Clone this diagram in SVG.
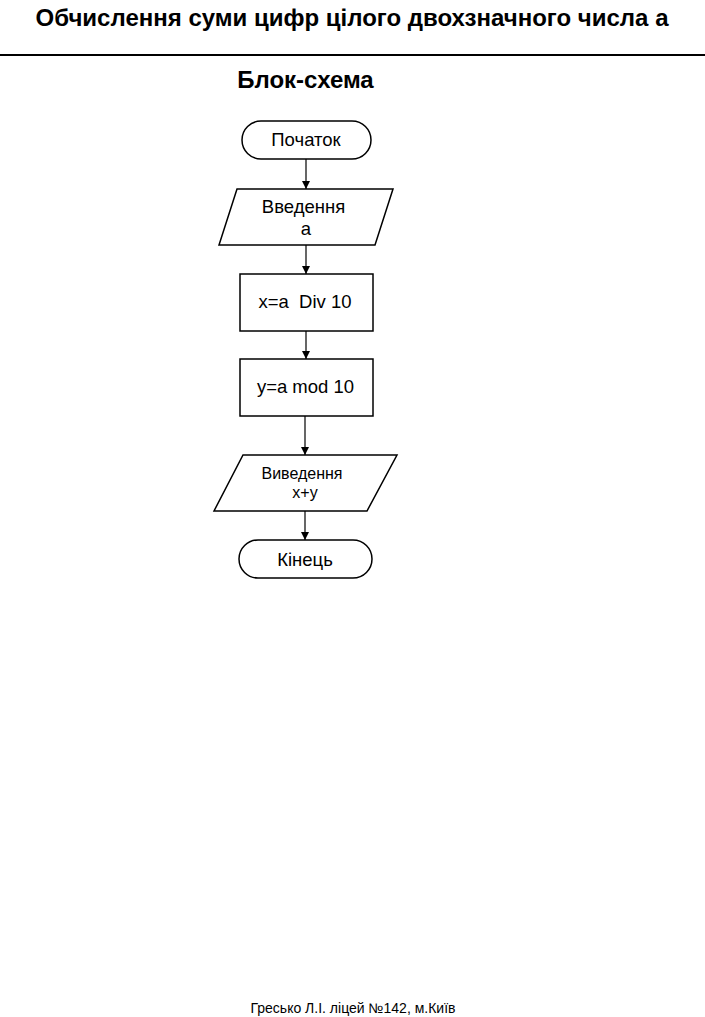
<svg xmlns="http://www.w3.org/2000/svg" width="705" height="1017" viewBox="0 0 705 1017">
<defs>
<marker id="ah" markerWidth="8" markerHeight="10" refX="8" refY="5" orient="auto" markerUnits="userSpaceOnUse">
<path d="M0,1 L8,5 L0,9 Z" fill="#000"/>
</marker>
<style>
.t{font-family:"Liberation Sans",Arial,sans-serif;fill:#000;text-anchor:middle}
.b{font-weight:bold;font-size:24px}
.n{font-size:18.5px}
.s{fill:#fff;stroke:#000;stroke-width:1.5}
.c{stroke:#000;stroke-width:1.2;fill:none;marker-end:url(#ah)}
</style>
</defs>
<rect width="705" height="1017" fill="#fff"/>
<text class="t b" x="352" y="26">Обчислення суми цифр цілого двохзначного числа а</text>
<line x1="0" y1="55" x2="705" y2="55" stroke="#000" stroke-width="2"/>
<text class="t b" x="305.5" y="88">Блок-схема</text>
<g id="connectors">
<line class="c" x1="306" y1="159" x2="306" y2="189"/>
<line class="c" x1="306" y1="245" x2="306" y2="274"/>
<line class="c" x1="306" y1="331" x2="306" y2="359"/>
<line class="c" x1="305" y1="416" x2="305" y2="455"/>
<line class="c" x1="305" y1="511" x2="305" y2="540"/>
</g>
<g id="start">
<rect class="s" x="242" y="121" width="129" height="38" rx="19" ry="19"/>
<text class="t n" x="306" y="146">Початок</text>
</g>
<g id="input">
<polygon class="s" points="237,189 393,189 375,245 219,245"/>
<text class="t n" x="303.5" y="213">Введення</text>
<text class="t n" x="306" y="235">а</text>
</g>
<g id="div">
<rect class="s" x="240" y="274" width="133" height="57"/>
<text class="t n" x="305" y="308" xml:space="preserve">x=a  Div 10</text>
</g>
<g id="mod">
<rect class="s" x="240" y="359" width="133" height="57"/>
<text class="t n" x="305.5" y="393">y=a mod 10</text>
</g>
<g id="output">
<polygon class="s" points="243,455 397,455 367,511 214,511"/>
<text class="t" x="302" y="479" font-size="16">Виведення</text>
<text class="t" x="305" y="498" font-size="16">x+y</text>
</g>
<g id="end">
<rect class="s" x="239" y="540" width="133" height="38" rx="19" ry="19"/>
<text class="t n" x="305" y="566">Кінець</text>
</g>
<text class="t" x="353" y="1013" font-size="14">Гресько Л.І. ліцей №142, м.Київ</text>
</svg>
